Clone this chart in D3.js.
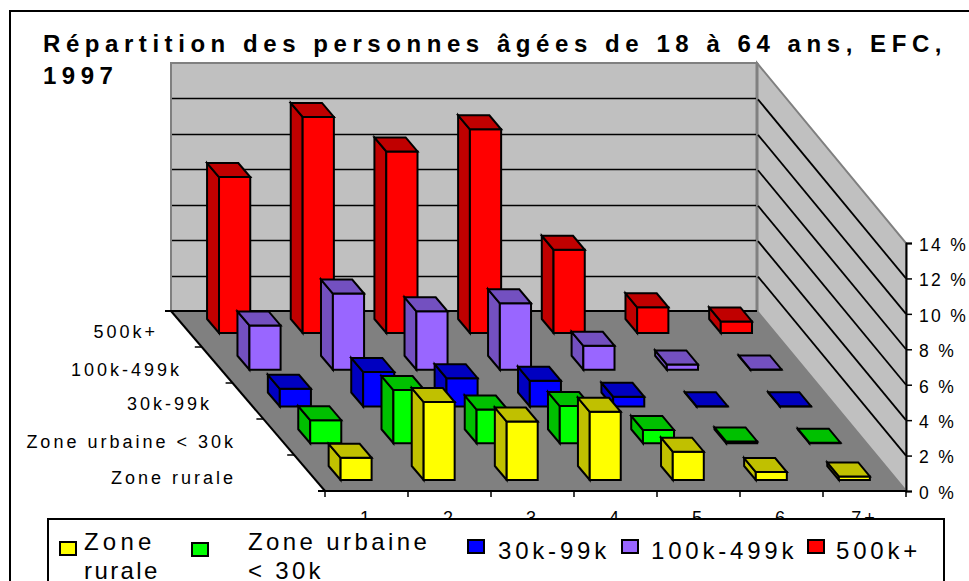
<!DOCTYPE html>
<html><head><meta charset="utf-8">
<script src="https://cdn.jsdelivr.net/npm/d3@7/dist/d3.min.js"></script>
<style>
html,body{margin:0;padding:0;background:#fff;overflow:hidden}
svg{display:block}
text{font-family:"Liberation Sans",Arial,sans-serif;fill:#000}
</style></head><body>
<svg id="c" width="969" height="581"></svg>
<script>
const categories = ["1","2","3","4","5","6","7+"];
const seriesNames = ["Zone rurale","Zone urbaine < 30k","30k-99k","100k-499k","500k+"];
const zoneRurale = [1.25,4.4,3.3,3.85,1.6,0.45,0.2];
const zoneUrbaine = [1.3,3.0,1.9,2.1,0.75,0.1,0.03];
const k30 = [1.0,1.95,1.6,1.45,0.55,0.02,0.02];
const k100 = [2.5,4.3,3.3,3.75,1.35,0.3,0.02];
const k500 = [8.8,12.2,10.25,11.5,4.7,1.45,0.65];
const frontColors = ["#ffff00","#00ff00","#0000ff","#9966ff","#ff0000"];
const darkColors = ["#c0c000","#00c000","#0000c0","#7350c0","#c00000"];
const yTicks = [0,2,4,6,8,10,12,14];
const seriesValues = [zoneRurale,zoneUrbaine,k30,k100,k500];

const svg = d3.select("#c");
const floorDepth = 180;
const y = d3.scaleLinear().domain([0,14]).range([491,243]);
const frontX = d3.scaleLinear().domain([0,1]).range([325,906]);
const backX = d3.scaleLinear().domain([0,1]).range([171,757]);
const band = d3.scaleBand().domain(categories).range([0,1]);
const depthCenter = d3.scaleLinear().domain([0,4]).range([18,165]);
const barShift = d3.scaleLinear().domain([18,165]).range([-1,3]);
const P = (u,d,v=0) => {
  const t = d/floorDepth;
  const x = frontX(u)*(1-t)+backX(u)*t;
  return [x, y(v)-d];
};
const pts = a => a.map(p=>p.join(",")).join(" ");
const crisp = v => Math.round(v)+0.5;

// outer frame
svg.append("rect").attr("x",10).attr("y",11).attr("width",1000).attr("height",700)
  .attr("fill","#fff").attr("stroke","#000").attr("stroke-width",2);

// title
svg.append("text").attr("x",43).attr("y",52).attr("font-size",24).attr("font-weight","bold")
  .attr("letter-spacing",5.56).text("Répartition des personnes âgées de 18 à 64 ans, EFC,");
svg.append("text").attr("x",43).attr("y",84).attr("font-size",24).attr("font-weight","bold")
  .attr("letter-spacing",5.5).text("1997");

// walls and floor
const c = {bl:P(0,floorDepth), br:P(1,floorDepth), fl:P(0,0), fr:P(1,0),
           tl:P(0,floorDepth,14), tr:P(1,floorDepth,14), ftr:P(1,0,14)};
svg.append("polygon").attr("points",pts([c.bl,c.fl,c.fr,c.br])).attr("fill","#808080");
svg.append("polygon").attr("points",pts([c.tl,c.tr,c.br,c.bl])).attr("fill","#c0c0c0").attr("stroke","#808080").attr("stroke-width",2);
svg.append("polygon").attr("points",pts([c.tr,c.ftr,c.fr,c.br])).attr("fill","#c0c0c0").attr("stroke","#808080").attr("stroke-width",2);
svg.append("line").attr("x1",c.tr[0]).attr("x2",c.br[0]).attr("y1",c.tr[1]).attr("y2",c.br[1]).attr("stroke","#808080").attr("stroke-width",3);

// grid lines
const grid = yTicks.slice(1,-1);
svg.append("g").selectAll("line").data(grid).join("line")
  .attr("x1",c.bl[0]+1).attr("x2",c.br[0]-1)
  .attr("y1",d=>crisp(y(d)-floorDepth)).attr("y2",d=>crisp(y(d)-floorDepth))
  .attr("stroke","#000").attr("stroke-width",1.5);
svg.append("g").selectAll("line").data(grid).join("line")
  .attr("x1",c.br[0]+1).attr("x2",c.fr[0])
  .attr("y1",d=>y(d)-floorDepth+1).attr("y2",d=>y(d))
  .attr("stroke","#000").attr("stroke-width",1.8);

// floor edges
const edge = (a,b)=>svg.append("line").attr("x1",a[0]).attr("y1",a[1]).attr("x2",b[0]).attr("y2",b[1]).attr("stroke","#000").attr("stroke-width",2);
edge([c.bl[0]-6,c.bl[1]],c.br);
edge(c.bl,c.fl);
edge([c.fl[0]-7,c.fl[1]],c.fr);

// depth ticks
svg.append("g").selectAll("line").data(d3.range(1,5)).join("line")
  .attr("x1",d=>P(0,d*36)[0]-7).attr("x2",d=>P(0,d*36)[0])
  .attr("y1",d=>P(0,d*36)[1]).attr("y2",d=>P(0,d*36)[1])
  .attr("stroke","#000").attr("stroke-width",1.5);

// category ticks
const catEdges = d3.range(0,8).map(i=>i/7);
svg.append("g").selectAll("line").data(catEdges).join("line")
  .attr("x1",d=>frontX(d)).attr("x2",d=>frontX(d)).attr("y1",491).attr("y2",497)
  .attr("stroke","#000").attr("stroke-width",1.5);

// right value axis
const axis = d3.axisRight(y).tickValues(yTicks).tickFormat(d=>d+" %").tickSize(6).tickPadding(7);
const ax = svg.append("g").attr("transform",`translate(${c.fr[0]},0)`).call(axis);
ax.select(".domain").attr("stroke","#000").attr("stroke-width",2);
ax.selectAll(".tick line").attr("stroke","#000").attr("stroke-width",1.5);
ax.selectAll("text").attr("font-family",'"Liberation Sans",Arial,sans-serif').attr("font-size",17.5).attr("letter-spacing",2.3).attr("dy","0.42em");

// series labels
const seriesLabelEnd = [236,236,212,182,158];
const seriesBaseline = [484,448,410,376,338];
svg.append("g").selectAll("text").data(seriesNames).join("text")
  .attr("x",(d,i)=>seriesLabelEnd[i]).attr("y",(d,i)=>seriesBaseline[i])
  .attr("text-anchor","end").attr("font-size",18).attr("letter-spacing",3).text(d=>d);

// category labels (covered at their base by the legend box)
svg.append("g").selectAll("text").data(categories).join("text")
  .attr("x",d=>frontX(band(d)+band.bandwidth()/2)).attr("y",524)
  .attr("text-anchor","middle").attr("font-size",18).attr("letter-spacing",3).text(d=>d);

// bars, back row first
const hu = 15.5/581, hd = 7;
const rows = d3.range(seriesNames.length).reverse();
rows.forEach(s=>{
  categories.forEach((cat,i)=>{
    const v = seriesValues[s][i];
    const u = band(cat)+band.bandwidth()/2;
    const dc = depthCenter(s);
    const Q = (uu,dd,vv=0)=>{const p=P(uu,dd,vv);return [p[0]+barShift(dc),p[1]];};
    const fl0=Q(u-hu,dc-hd), fr0=Q(u+hu,dc-hd), bl0=Q(u-hu,dc+hd);
    const fl1=Q(u-hu,dc-hd,v), fr1=Q(u+hu,dc-hd,v), bl1=Q(u-hu,dc+hd,v), br1=Q(u+hu,dc+hd,v);
    const g = svg.append("g").attr("stroke","#000").attr("stroke-width",2).attr("stroke-linejoin","miter");
    g.append("polygon").attr("points",pts([bl0,fl0,fl1,bl1])).attr("fill",darkColors[s]);
    g.append("polygon").attr("points",pts([fl0,fr0,fr1,fl1])).attr("fill",frontColors[s]);
    g.append("polygon").attr("points",pts([fl1,fr1,br1,bl1])).attr("fill",darkColors[s]);
  });
});

// legend
svg.append("rect").attr("x",48).attr("y",519).attr("width",896).attr("height",120)
  .attr("fill","#fff").attr("stroke","#000").attr("stroke-width",2);
const swatchX = [60,192,468,622,808];
const swatchY = [542,543,540,540,540];
const legendLines = [["Zone","rurale"],["Zone urbaine","< 30k"],["30k-99k"],["100k-499k"],["500k+"]];
const legendTextX = [84,248,498,651,836];
const legendBase = [[550,579],[550,579],[559],[559],[559]];
const legendSpacing = [[4.2,2.4],[3.4,3.3],[3.8],[3.8],[3.8]];
const lg = svg.append("g");
lg.selectAll("rect").data(seriesNames).join("rect")
  .attr("x",(d,i)=>swatchX[i]).attr("y",(d,i)=>swatchY[i]).attr("width",16).attr("height",13)
  .attr("fill",(d,i)=>frontColors[i]).attr("stroke","#000").attr("stroke-width",2);
legendLines.forEach((lines,i)=>lines.forEach((t,j)=>{
  lg.append("text").attr("x",legendTextX[i]).attr("y",legendBase[i][j])
    .attr("font-size",24).attr("letter-spacing",legendSpacing[i][j]).text(t);
}));
</script>
</body></html>
